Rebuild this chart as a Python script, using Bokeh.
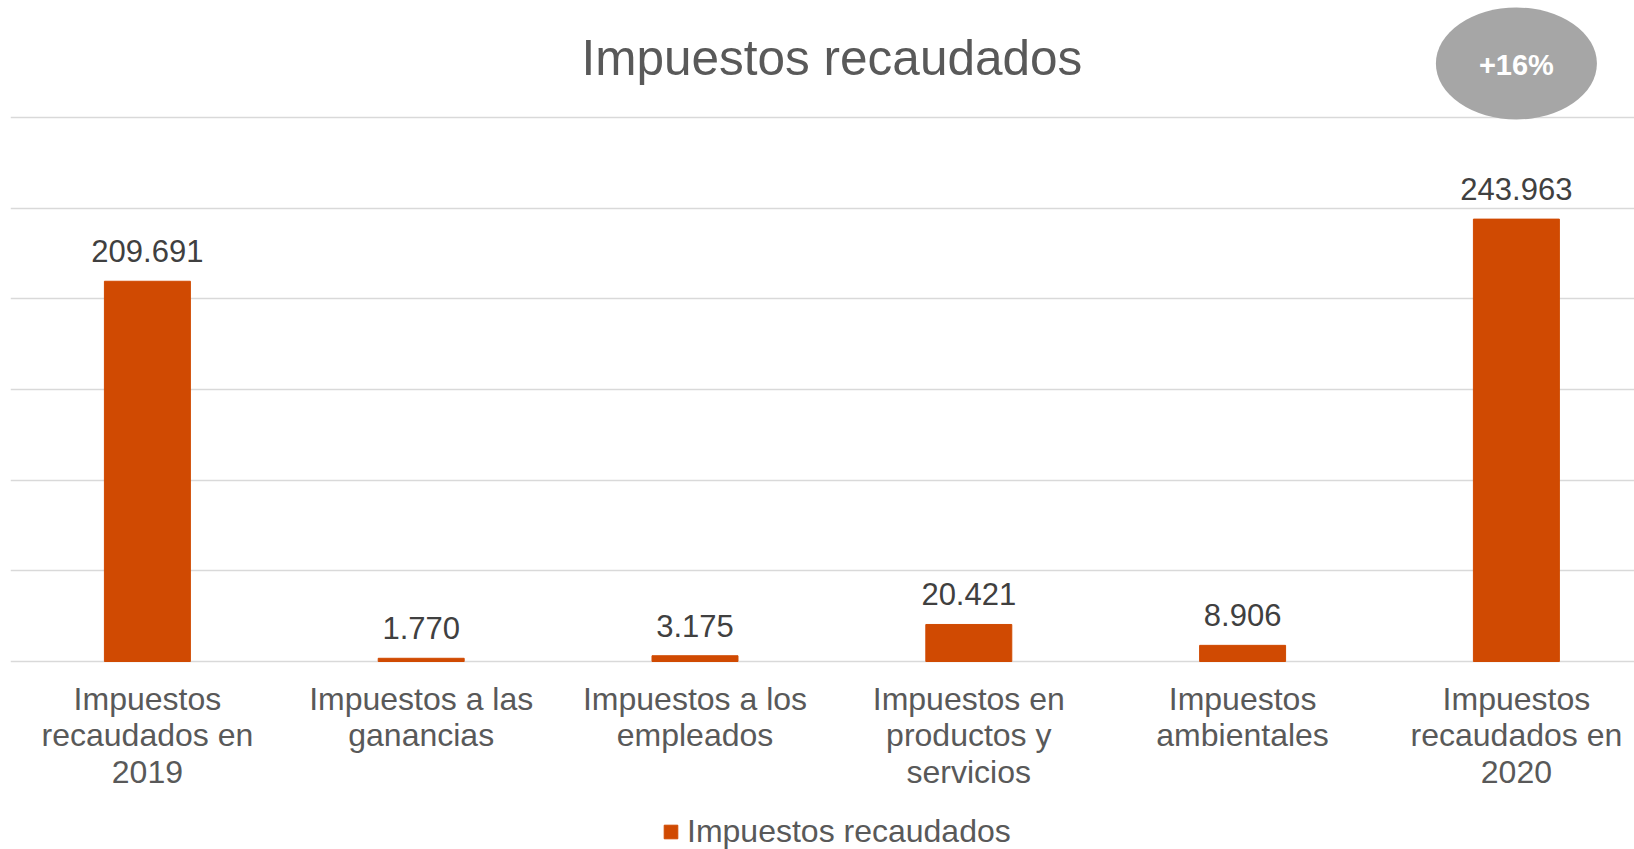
from bokeh.plotting import figure
from bokeh.models import ColumnDataSource, FixedTicker, Range1d, Legend, LegendItem
from bokeh.core.properties import value
from bokeh.embed import file_html
from bokeh.resources import INLINE

# ---- data ----
categories = [
    "Impuestos\nrecaudados en\n2019",
    "Impuestos a las\nganancias",
    "Impuestos a los\nempleados",
    "Impuestos en\nproductos y\nservicios",
    "Impuestos\nambientales",
    "Impuestos\nrecaudados en\n2020",
]
values = [209691, 1770, 3175, 20421, 8906, 243963]
y_ticks = [0, 50000, 100000, 150000, 200000, 250000, 300000]
series_name = "Impuestos recaudados"
title_text = "Impuestos recaudados"
badge_text = "+16%"

# ---- layout / style ----
FONT = "Liberation Sans"
BAR_COLOR = "#D04A02"
W, H = 1634, 849
FRAME_LEFT = 10
BASE_Y = 661            # canvas pixel row of the value 0
frame_w = W - FRAME_LEFT
px_per_cat = 273.8
units_per_px = 300000 / 544.0
x_start = -0.5
x_end = x_start + frame_w / px_per_cat
y_end = BASE_Y * units_per_px
y_start = -(H - BASE_Y) * units_per_px

def y_at(px_above_base):
    return px_above_base * units_per_px

xs = list(range(len(categories)))
labels = [f"{v:,}".replace(",", ".") for v in values]
src = ColumnDataSource(dict(x=xs, top=values, label=labels,
                            cat=categories, base=[0] * len(xs)))

p = figure(width=W, height=H, output_backend="svg", toolbar_location=None,
           x_range=Range1d(x_start, x_end), y_range=Range1d(y_start, y_end),
           min_border_left=FRAME_LEFT, min_border_right=0, min_border_top=0,
           min_border_bottom=0)
p.outline_line_color = None
p.background_fill_color = "white"
p.border_fill_color = "white"
p.xaxis.visible = False
p.yaxis.visible = False

# grid
p.ygrid.ticker = FixedTicker(ticks=y_ticks)
p.ygrid.grid_line_color = "#d9d9d9"
p.ygrid.grid_line_width = 1.5
p.xgrid.visible = False

bars = p.vbar(x="x", top="top", width=0.314, source=src,
              fill_color=BAR_COLOR, line_color=BAR_COLOR)

# data labels
p.text(x="x", y="top", text="label", source=src, y_offset=-30,
       text_align="center", text_baseline="middle",
       text_font=value(FONT), text_font_size="31px", text_color="#404040")

# category labels (x axis)
p.text(x="x", y="base", text="cat", source=src, y_offset=19,
       text_align="center", text_baseline="top", text_line_height=1.02,
       text_font=value(FONT), text_font_size="32px", text_color="#595959")

# title
p.text(x=[(len(categories) - 1) / 2], y=[y_at(604)], text=[title_text],
       text_align="center", text_baseline="middle",
       text_font=value(FONT), text_font_size="49.5px", text_color="#595959")

# badge
p.ellipse(x=[len(categories) - 1], y=[y_at(598)], width=161, height=112,
          width_units="screen", height_units="screen",
          fill_color="#a6a6a6", line_color=None)
p.text(x=[len(categories) - 1], y=[y_at(597)], text=[badge_text],
       text_align="center", text_baseline="middle",
       text_font=value(FONT), text_font_size="29px", text_font_style="bold",
       text_color="white")

legend = Legend(items=[LegendItem(label=series_name, renderers=[bars])],
                location=(652, -1), orientation="horizontal",
                padding=0, margin=0, spacing=0, label_standoff=8,
                glyph_width=17, glyph_height=17, label_height=30,
                border_line_color=None, background_fill_alpha=0,
                label_text_font=FONT, label_text_font_size="32px",
                label_text_color="#595959")
p.add_layout(legend)

open("out.html", "w").write(file_html(p, INLINE))
